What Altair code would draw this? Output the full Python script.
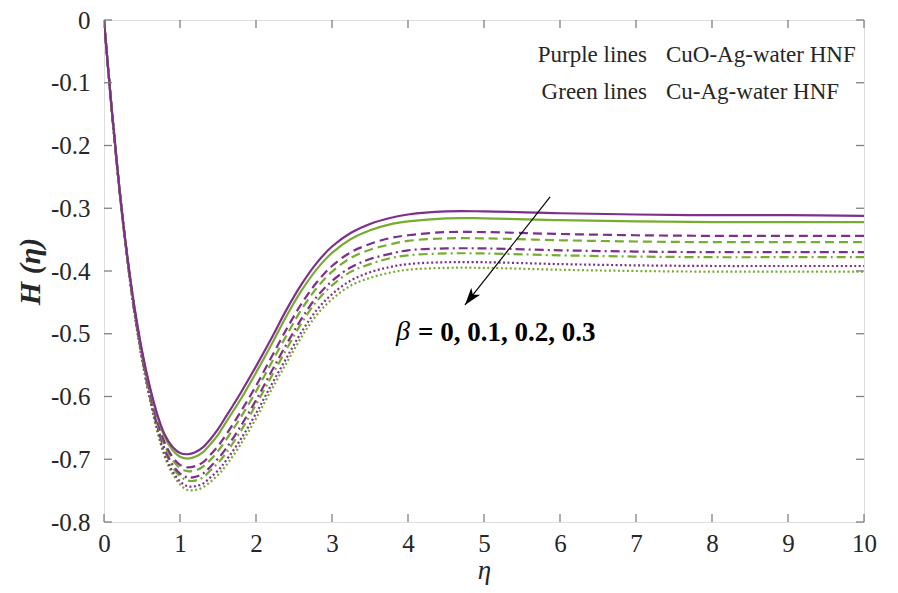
import altair as alt
import pandas as pd

eta = [0, 0.1, 0.2, 0.3, 0.4, 0.5, 0.6, 0.7, 0.8, 0.9, 1.0, 1.1, 1.2, 1.3, 1.4, 1.5, 1.6, 1.8,
       2.0, 2.2, 2.4, 2.6, 2.8, 3.0, 3.25, 3.5, 3.75, 4.0, 4.5, 5, 6, 7, 8, 9, 10]

purple_b00 = [0, -0.140, -0.265, -0.370, -0.457, -0.527, -0.583, -0.628, -0.661, -0.680, -0.690,
              -0.692, -0.689, -0.681, -0.668, -0.652, -0.633, -0.594, -0.552, -0.508, -0.462,
              -0.421, -0.387, -0.361, -0.339, -0.325, -0.316, -0.310, -0.305, -0.305, -0.308,
              -0.310, -0.311, -0.311, -0.312]
green_b00 = [0, -0.140, -0.265, -0.371, -0.458, -0.529, -0.585, -0.631, -0.665, -0.685, -0.696,
             -0.699, -0.696, -0.689, -0.676, -0.661, -0.642, -0.604, -0.562, -0.518, -0.472,
             -0.431, -0.397, -0.371, -0.349, -0.335, -0.326, -0.321, -0.316, -0.316, -0.319,
             -0.321, -0.322, -0.322, -0.322]
purple_b01 = [0, -0.140, -0.266, -0.372, -0.461, -0.532, -0.590, -0.638, -0.674, -0.696, -0.709,
              -0.713, -0.711, -0.705, -0.693, -0.679, -0.662, -0.624, -0.583, -0.538, -0.493,
              -0.452, -0.418, -0.392, -0.370, -0.357, -0.348, -0.343, -0.338, -0.338, -0.341,
              -0.343, -0.344, -0.344, -0.344]
green_b01 = [0, -0.140, -0.266, -0.372, -0.462, -0.534, -0.593, -0.641, -0.678, -0.701, -0.714,
             -0.719, -0.718, -0.712, -0.701, -0.687, -0.670, -0.633, -0.592, -0.547, -0.503,
             -0.461, -0.427, -0.401, -0.379, -0.366, -0.358, -0.352, -0.348, -0.348, -0.351,
             -0.353, -0.354, -0.354, -0.354]
purple_b02 = [0, -0.140, -0.266, -0.373, -0.464, -0.536, -0.596, -0.646, -0.684, -0.708, -0.723,
              -0.729, -0.728, -0.723, -0.712, -0.699, -0.684, -0.647, -0.606, -0.561, -0.517,
              -0.476, -0.441, -0.416, -0.394, -0.381, -0.373, -0.367, -0.364, -0.364, -0.367,
              -0.369, -0.370, -0.370, -0.370]
green_b02 = [0, -0.140, -0.266, -0.374, -0.464, -0.537, -0.598, -0.648, -0.687, -0.712, -0.727,
             -0.734, -0.734, -0.729, -0.718, -0.706, -0.691, -0.655, -0.613, -0.569, -0.525,
             -0.483, -0.448, -0.423, -0.401, -0.389, -0.380, -0.375, -0.372, -0.372, -0.375,
             -0.377, -0.378, -0.378, -0.378]
purple_b03 = [0, -0.140, -0.267, -0.375, -0.466, -0.540, -0.601, -0.652, -0.693, -0.719, -0.735,
              -0.743, -0.743, -0.739, -0.729, -0.718, -0.703, -0.668, -0.627, -0.582, -0.539,
              -0.497, -0.462, -0.437, -0.415, -0.402, -0.394, -0.389, -0.386, -0.386, -0.389,
              -0.391, -0.392, -0.392, -0.392]
green_b03 = [0, -0.140, -0.267, -0.375, -0.467, -0.541, -0.603, -0.655, -0.696, -0.723, -0.740,
             -0.749, -0.749, -0.745, -0.736, -0.725, -0.711, -0.676, -0.635, -0.590, -0.547,
             -0.505, -0.470, -0.445, -0.423, -0.411, -0.403, -0.398, -0.395, -0.395, -0.398,
             -0.400, -0.401, -0.401, -0.401]

x_ticks = [0, 1, 2, 3, 4, 5, 6, 7, 8, 9, 10]
y_ticks = [0, -0.1, -0.2, -0.3, -0.4, -0.5, -0.6, -0.7, -0.8]

legend_left = ["Purple lines", "Green lines"]
legend_right = ["CuO-Ag-water HNF", "Cu-Ag-water HNF"]
beta_label = "= 0, 0.1, 0.2, 0.3"

PURPLE = "#7E2F8E"
GREEN = "#77AC30"
AXC = "#808080"
TXT = "#262626"
FONT = "Liberation Serif"
W, Hh = 760, 502

dash = {"dashed": [9, 5], "dashdot": [9, 4, 2, 4], "dotted": [2, 2.5]}
series = [
    ("green_b03", green_b03, GREEN, "dotted"),
    ("purple_b03", purple_b03, PURPLE, "dotted"),
    ("green_b02", green_b02, GREEN, "dashdot"),
    ("purple_b02", purple_b02, PURPLE, "dashdot"),
    ("green_b01", green_b01, GREEN, "dashed"),
    ("purple_b01", purple_b01, PURPLE, "dashed"),
    ("green_b00", green_b00, GREEN, "solid"),
    ("purple_b00", purple_b00, PURPLE, "solid"),
]

xs = alt.Scale(domain=[0, 10], nice=False, zero=False)
ys = alt.Scale(domain=[-0.8, 0], nice=False, zero=False)

x_axis = alt.Axis(values=x_ticks, domain=False, ticks=False, grid=False,
                  labelFont=FONT, labelFontSize=25, labelColor=TXT,
                  labelFlush=False, labelOverlap=False,
                  labelPadding=9, title="η", titleFont=FONT,
                  titleFontSize=27, titleFontStyle="italic",
                  titleFontWeight="normal", titleColor=TXT, titlePadding=1)
y_axis = alt.Axis(values=y_ticks, domain=False, ticks=False, grid=False,
                  labelFont=FONT, labelFontSize=25, labelColor=TXT,
                  labelFlush=False, labelOverlap=False,
                  labelPadding=14,
                  labelExpr="datum.value == 0 ? '0' : '-' + format(abs(datum.value), '.1f')",
                  title="H (η)", titleFont=FONT, titleFontSize=30,
                  titleFontStyle="italic", titleFontWeight="bold",
                  titleColor=TXT, titlePadding=5)


def X(field):
    return alt.X(field, scale=xs, axis=x_axis)


def Y(field):
    return alt.Y(field, scale=ys, axis=y_axis)


layers = []
for name, vals, col, st in series:
    df = pd.DataFrame({"eta": eta, "H": vals})
    props = dict(color=col, strokeWidth=2.2, interpolate="catmull-rom", clip=True)
    if st != "solid":
        props["strokeDash"] = dash[st]
    layers.append(alt.Chart(df).mark_line(**props).encode(x=X("eta:Q"), y=Y("H:Q")))

# inward ticks on all four sides
xt = pd.DataFrame({"eta": x_ticks})
yt = pd.DataFrame({"H": y_ticks})
tick_style = dict(color=AXC, strokeWidth=1.3)
layers.append(alt.Chart(xt).mark_rule(**tick_style).encode(
    x=X("eta:Q"), y=alt.value(Hh), y2=alt.value(Hh - 8)))
layers.append(alt.Chart(xt).mark_rule(**tick_style).encode(
    x=X("eta:Q"), y=alt.value(0), y2=alt.value(8)))
layers.append(alt.Chart(yt).mark_rule(**tick_style).encode(
    y=Y("H:Q"), x=alt.value(0), x2=alt.value(8)))
layers.append(alt.Chart(yt).mark_rule(**tick_style).encode(
    y=Y("H:Q"), x=alt.value(W), x2=alt.value(W - 8)))

# legend text (two rows, two columns)
one = pd.DataFrame({"k": [0]})
row_y = [35, 72]
for i in range(2):
    layers.append(alt.Chart(one).mark_text(text=legend_left[i], font=FONT, fontSize=23,
                                           align="right", baseline="middle",
                                           color=TXT).encode(
        x=alt.value(543), y=alt.value(row_y[i])))
    layers.append(alt.Chart(one).mark_text(text=legend_right[i], font=FONT, fontSize=23,
                                           align="left", baseline="middle",
                                           color=TXT).encode(
        x=alt.value(562), y=alt.value(row_y[i])))

# arrow annotation
arrow = pd.DataFrame({"eta": [5.87], "H": [-0.282], "eta2": [4.75], "H2": [-0.454]})
layers.append(alt.Chart(arrow).mark_rule(color="black", strokeWidth=1.2).encode(
    x=X("eta:Q"), y=Y("H:Q"), x2="eta2:Q", y2="H2:Q"))
head = pd.DataFrame({"eta": [4.75], "H": [-0.454]})
layers.append(alt.Chart(head).mark_point(
    shape="M0,0L0.55,1.7L0,1.25L-0.55,1.7Z", filled=True, color="black", opacity=1,
    size=420, angle=218).encode(x=X("eta:Q"), y=Y("H:Q")))

layers.append(alt.Chart(one).mark_text(text="β", font=FONT, fontSize=28, fontStyle="italic",
                                       align="left", baseline="middle", color="black").encode(
    x=alt.value(292), y=alt.value(312)))
layers.append(alt.Chart(one).mark_text(text=beta_label, font=FONT, fontSize=27,
                                       fontWeight="bold", align="left", baseline="middle",
                                       color="black").encode(
    x=alt.value(314), y=alt.value(313)))

chart = alt.layer(*layers).properties(
    width=W, height=Hh,
    autosize=alt.AutoSizeParams(type="none"),
    padding={"left": 96, "top": 12, "right": 26, "bottom": 63},
).configure_view(stroke=AXC, strokeWidth=1.5).configure(background="white")

chart.save("out.html", embed_options={"renderer": "svg", "actions": False})
